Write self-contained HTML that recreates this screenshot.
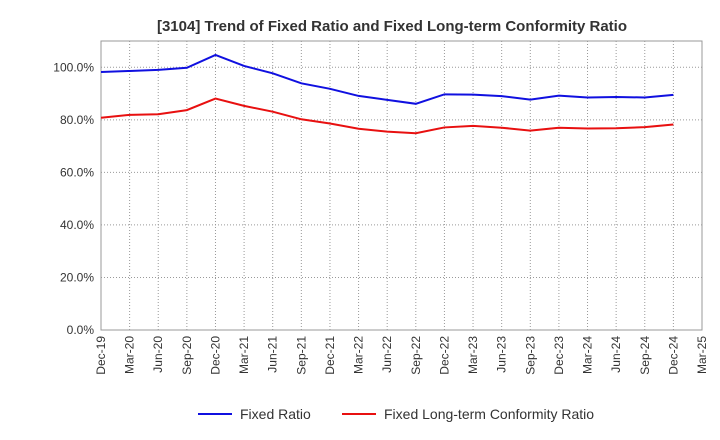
<!DOCTYPE html>
<html><head><meta charset="utf-8"><style>
body{margin:0;background:#fff;font-family:"Liberation Sans",sans-serif}
</style></head><body>
<svg id="c" width="720" height="440" style="display:block">
<text x="392" y="31" text-anchor="middle" font-size="15" font-weight="bold" fill="#333">[3104]  Trend of Fixed Ratio and Fixed Long-term Conformity Ratio</text>
<g id="grid"></g><g id="axes"></g><g id="series"></g>
<g>
<line x1="198" y1="414" x2="232" y2="414" stroke="#1010e0" stroke-width="2"/>
<text x="240" y="419" font-size="14" fill="#333">Fixed Ratio</text>
<line x1="342" y1="414" x2="376" y2="414" stroke="#e81010" stroke-width="2"/>
<text x="384" y="419" font-size="14" fill="#333">Fixed Long-term Conformity Ratio</text>
</g>
</svg>
<script>
const xLabels=["Dec-19","Mar-20","Jun-20","Sep-20","Dec-20","Mar-21","Jun-21","Sep-21","Dec-21","Mar-22","Jun-22","Sep-22","Dec-22","Mar-23","Jun-23","Sep-23","Dec-23","Mar-24","Jun-24","Sep-24","Dec-24","Mar-25"];
const yTicks=[0,20,40,60,80,100];
const fixedRatio=[98.2,98.6,99.0,99.8,104.7,100.5,97.7,93.9,91.8,89.1,87.6,86.1,89.7,89.6,89.0,87.7,89.2,88.5,88.7,88.5,89.5];
const conformityRatio=[80.8,81.9,82.1,83.7,88.1,85.3,83.1,80.2,78.6,76.6,75.5,74.9,77.1,77.7,77.0,75.9,77.0,76.7,76.8,77.2,78.2];
const L=101,R=702,T=41,B=330,YMAX=110;
const xs=i=>L+i*(R-L)/(xLabels.length-1);
const ys=v=>B-v*(B-T)/YMAX;
const NS="http://www.w3.org/2000/svg";
function mk(p,tag,a){const e=document.createElementNS(NS,tag);for(const k in a)e.setAttribute(k,a[k]);p.appendChild(e);return e;}
const g=document.getElementById('grid'),ax=document.getElementById('axes'),s=document.getElementById('series');
mk(g,'rect',{x:L,y:T,width:R-L,height:B-T,fill:'none',stroke:'#999'});
xLabels.forEach((lab,i)=>{const x=xs(i);
 if(i>0&&i<xLabels.length-1){const l=mk(g,'line',{x1:x,y1:T,x2:x,y2:B,stroke:'#999','stroke-dasharray':'1,2'});
 
 }
 const t=mk(ax,'text',{x:0,y:0,'font-size':12,fill:'#333','text-anchor':'end',transform:`translate(${x+4},${B+6}) rotate(-90)`});
 t.textContent=lab;
 
 });
yTicks.forEach(v=>{const y=ys(v);
 if(v>0){const l=mk(g,'line',{x1:L,y1:y,x2:R,y2:y,stroke:'#999','stroke-dasharray':'1,2'});
 
 }
 const t=mk(ax,'text',{x:L-7,y:y+4,'font-size':12,fill:'#333','text-anchor':'end'});
 t.textContent=v.toFixed(1)+'%';
 
 });
function line(d,c,n){const p=mk(s,'polyline',{points:d.map((v,i)=>xs(i)+','+ys(v)).join(' '),fill:'none',stroke:c,'stroke-width':2});
 
 }
line(fixedRatio,'#1010e0','fixed-ratio-line');
line(conformityRatio,'#e81010','conformity-ratio-line');
</script>
</body></html>
